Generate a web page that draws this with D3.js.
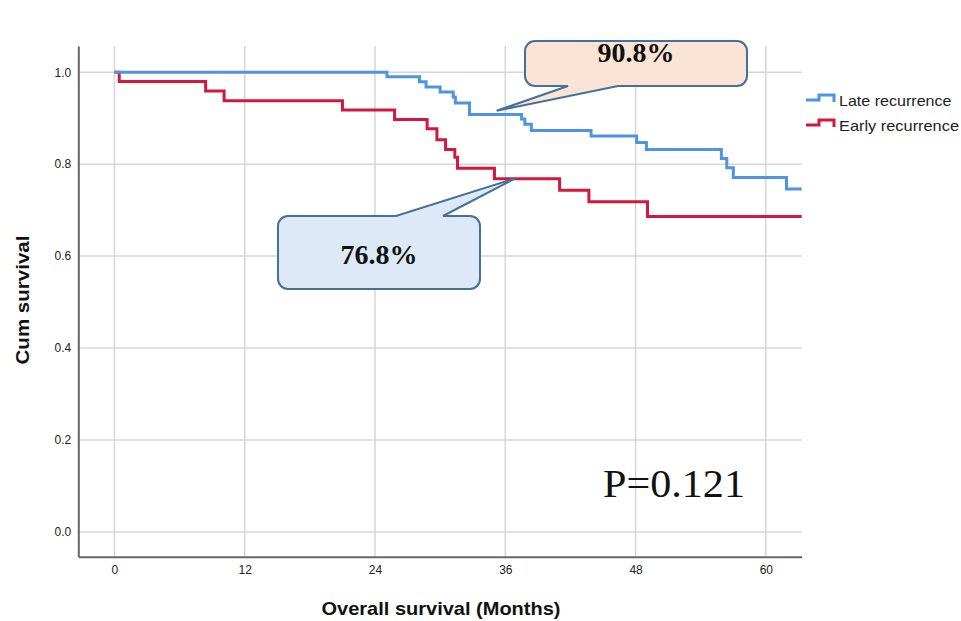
<!DOCTYPE html>
<html>
<head>
<meta charset="utf-8">
<script src="https://cdn.jsdelivr.net/npm/d3@7"></script>
<style>
  body { margin: 0; background: #fff; }
  svg { display: block; }
</style>
</head>
<body>
<div id="chart"></div>
<script>
// ---- data ----
const lateTimes = [25.1, 28.1, 28.7, 30.0, 31.2, 31.4, 32.7, 37.5, 37.8, 38.4, 43.9, 48.1, 49.0, 55.9, 56.4, 57.0, 61.9];
const lateSurv  = [0.990, 0.979, 0.968, 0.957, 0.946, 0.933, 0.908, 0.898, 0.887, 0.873, 0.861, 0.847, 0.832, 0.812, 0.792, 0.771, 0.746];
const earlyTimes = [0.44, 8.4, 10.1, 21.0, 25.8, 28.8, 29.7, 30.5, 31.35, 31.6, 35.0, 41.0, 43.7, 49.1];
const earlySurv  = [0.980, 0.959, 0.938, 0.918, 0.897, 0.877, 0.853, 0.832, 0.815, 0.791, 0.768, 0.743, 0.718, 0.686];
const followEnd = 63.3;

const seriesNames = ["Late recurrence", "Early recurrence"];
const seriesColors = ["#4f94e0", "#d3173e"];

const xTicks = [0, 12, 24, 36, 48, 60];
const yTicks = [0.0, 0.2, 0.4, 0.6, 0.8, 1.0];

// callouts: label, point the tail touches (month, survival)
const calloutLabels = ["90.8%", "76.8%"];
const calloutTips = [[35.2, 0.916], [36.9, 0.769]];
const pValueText = "P=0.121";

// ---- layout ----
const W = 961, H = 621;
const svg = d3.select("#chart").append("svg").attr("width", W).attr("height", H);

const x = d3.scaleLinear().domain([-3.33, 63.3]).range([78.3, 801.7]);
const y = d3.scaleLinear().domain([-0.054, 1.057]).range([556.7, 46]);

const gridColor = "#d6d6d6";
const sans = "Liberation Sans, Arial, sans-serif";
const serif = "Liberation Serif, Times New Roman, serif";

// gridlines
svg.append("g").selectAll("line").data(yTicks).join("line")
  .attr("x1", x.range()[0]).attr("x2", x.range()[1])
  .attr("y1", d => y(d)).attr("y2", d => y(d))
  .attr("stroke", gridColor).attr("stroke-width", 1.5);
svg.append("g").selectAll("line").data(xTicks).join("line")
  .attr("x1", d => x(d)).attr("x2", d => x(d))
  .attr("y1", y.range()[0]).attr("y2", y.range()[1])
  .attr("stroke", gridColor).attr("stroke-width", 1.5);

// axes
const xAxis = svg.append("g")
  .attr("transform", `translate(0,${y.range()[0]})`)
  .call(d3.axisBottom(x).tickValues(xTicks).tickSize(0).tickPadding(9).tickFormat(d3.format("d")));
const yAxis = svg.append("g")
  .attr("transform", `translate(${x.range()[0]},0)`)
  .call(d3.axisLeft(y).tickValues(yTicks).tickSize(0).tickPadding(7).tickFormat(d3.format(".1f")));
[xAxis, yAxis].forEach(g => {
  g.select(".domain").attr("stroke", "#666").attr("stroke-width", 2);
  g.selectAll("text").attr("font-family", sans)
    .attr("font-size", 12).attr("fill", "#222");
});

// ---- survival curves ----
function steps(times, surv) {
  const pts = [{ t: 0, s: 1 }];
  times.forEach((t, i) => pts.push({ t, s: surv[i] }));
  pts.push({ t: followEnd, s: surv[surv.length - 1] });
  return pts;
}
const curves = [steps(lateTimes, lateSurv), steps(earlyTimes, earlySurv)];
const line = d3.line().x(d => x(d.t)).y(d => y(d.s)).curve(d3.curveStepAfter);

// draw early first so late sits on top at 1.0
[1, 0].forEach(i => {
  svg.append("path").datum(curves[i])
    .attr("fill", "none").attr("stroke", seriesColors[i])
    .attr("stroke-width", 3).attr("d", line);
});

// ---- legend ----
const legend = svg.append("g").attr("transform", "translate(806,100)");
seriesNames.forEach((name, i) => {
  const g = legend.append("g").attr("transform", `translate(0,${i * 25})`);
  g.append("path")
    .attr("d", "M0,0 H13 V-5 H28 V2")
    .attr("fill", "none").attr("stroke", seriesColors[i]).attr("stroke-width", 3);
  g.append("text").attr("x", 33).attr("y", 5.5)
    .attr("font-family", sans)
    .attr("font-size", 15).attr("fill", "#222")
    .attr("textLength", name.length * 7.5).attr("lengthAdjust", "spacingAndGlyphs")
    .text(name);
});

// ---- axis titles ----
svg.append("text")
  .attr("x", 441).attr("y", 615).attr("text-anchor", "middle")
  .attr("font-family", sans)
  .attr("font-weight", "bold").attr("font-size", 19).attr("fill", "#111")
  .attr("textLength", 239).attr("lengthAdjust", "spacingAndGlyphs")
  .text("Overall survival (Months)");
svg.append("text")
  .attr("transform", "translate(29,300) rotate(-90)").attr("text-anchor", "middle")
  .attr("font-family", sans)
  .attr("font-weight", "bold").attr("font-size", 19).attr("fill", "#111")
  .attr("textLength", 129).attr("lengthAdjust", "spacingAndGlyphs")
  .text("Cum survival");

// ---- callouts ----
function calloutPath(x0, y0, x1, y1, r, side, b0, b1, tip) {
  const p = d3.path();
  p.moveTo(x0 + r, y0);
  if (side === "top") { p.lineTo(b0, y0); p.lineTo(tip[0], tip[1]); p.lineTo(b1, y0); }
  p.lineTo(x1 - r, y0);
  p.arcTo(x1, y0, x1, y0 + r, r);
  p.lineTo(x1, y1 - r);
  p.arcTo(x1, y1, x1 - r, y1, r);
  if (side === "bottom") { p.lineTo(b1, y1); p.lineTo(tip[0], tip[1]); p.lineTo(b0, y1); }
  p.lineTo(x0 + r, y1);
  p.arcTo(x0, y1, x0, y1 - r, r);
  p.lineTo(x0, y0 + r);
  p.arcTo(x0, y0, x0 + r, y0, r);
  p.closePath();
  return p.toString();
}

const boxes = [
  { x0: 525, y0: 41, x1: 747, y1: 86, side: "bottom", b0: 568, b1: 618, fill: "#fbe4d5", ty: 62 },
  { x0: 278, y0: 216, x1: 480, y1: 289, side: "top", b0: 396, b1: 443, fill: "#dde9f6", ty: 264 }
];
boxes.forEach((b, i) => {
  const tip = [x(calloutTips[i][0]), y(calloutTips[i][1])];
  svg.append("path")
    .attr("d", calloutPath(b.x0, b.y0, b.x1, b.y1, 10, b.side, b.b0, b.b1, tip))
    .attr("fill", b.fill).attr("stroke", "#41719c").attr("stroke-width", 2);
  svg.append("text")
    .attr("x", (b.x0 + b.x1) / 2).attr("y", b.ty).attr("text-anchor", "middle")
    .attr("font-family", serif)
    .attr("font-weight", "bold").attr("font-size", 28).attr("fill", "#111")
    .text(calloutLabels[i]);
});

// ---- p-value ----
svg.append("text")
  .attr("x", 603).attr("y", 497)
  .attr("font-family", serif)
  .attr("font-size", 41).attr("fill", "#111")
  .attr("textLength", 142).attr("lengthAdjust", "spacingAndGlyphs")
  .text(pValueText);
</script>
</body>
</html>
